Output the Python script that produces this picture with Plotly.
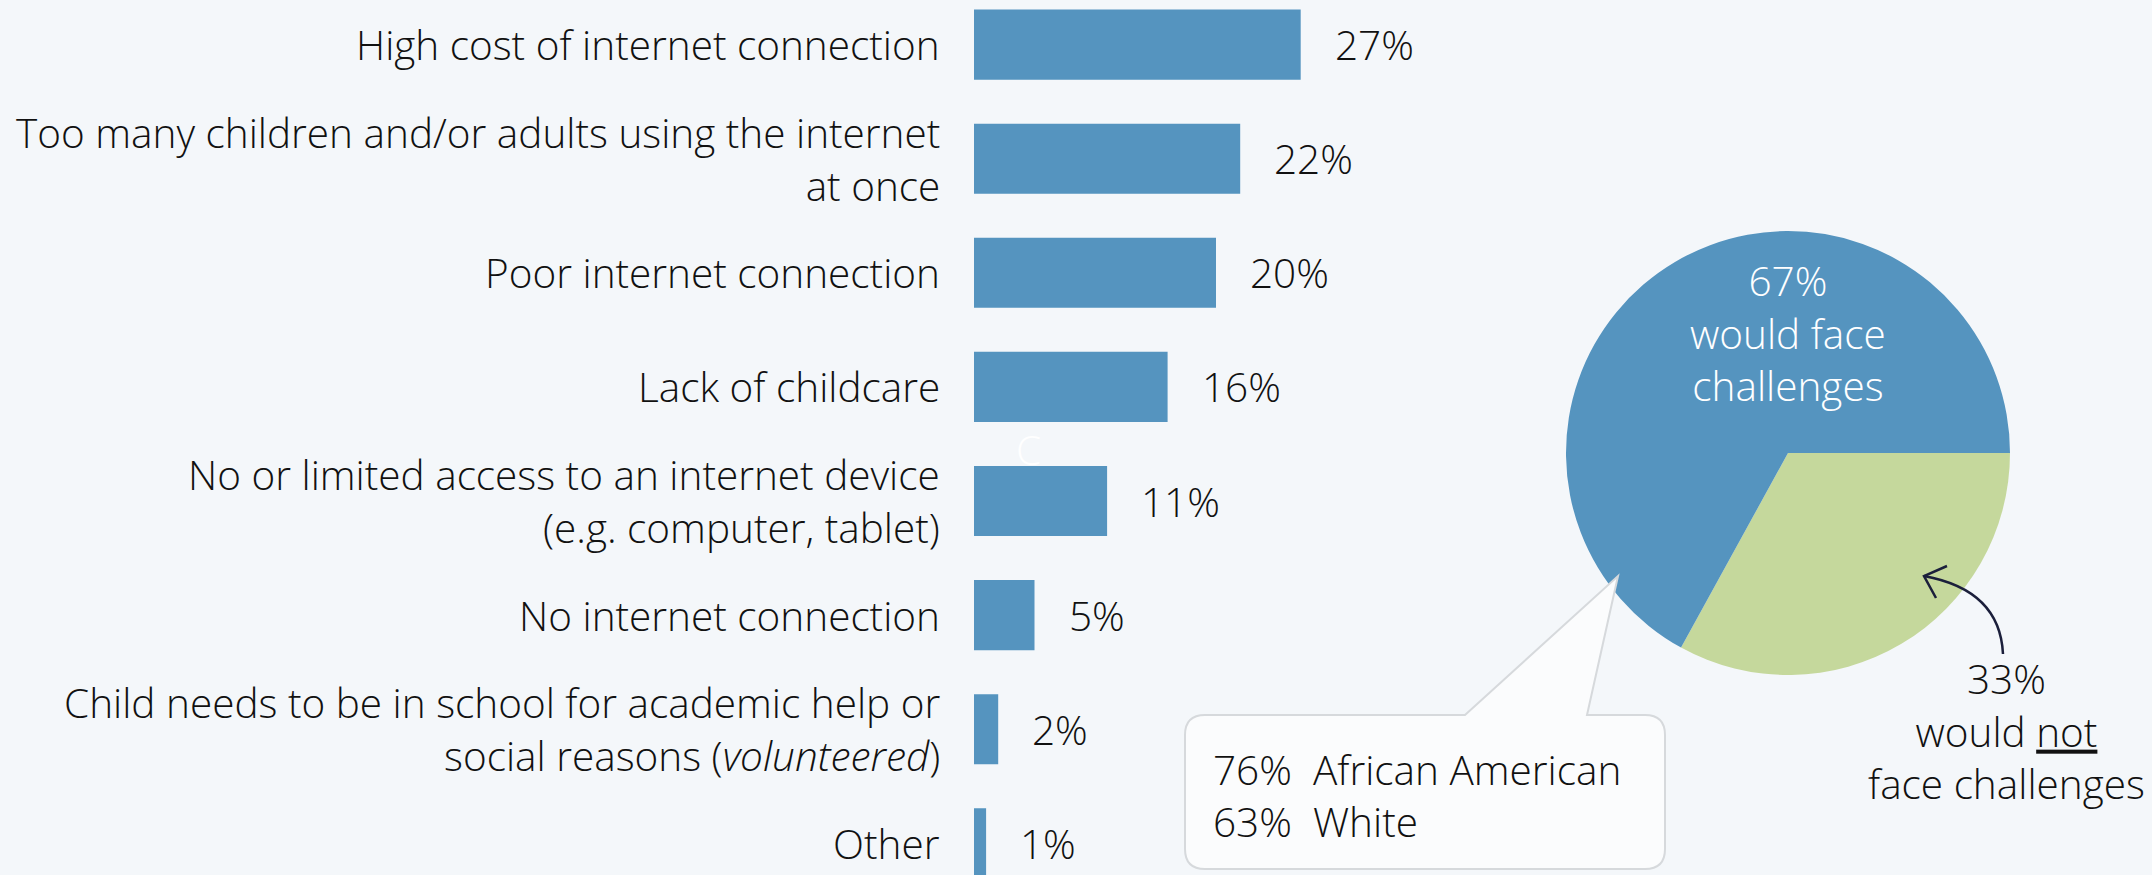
import plotly.graph_objects as go

# Reasons parents gave for facing challenges with remote learning
reasons = [
    "High cost of internet connection",
    "Too many children and/or adults using the internet<br>at once",
    "Poor internet connection",
    "Lack of childcare",
    "No or limited access to an internet device<br>(e.g. computer, tablet)",
    "No internet connection",
    "Child needs to be in school for academic help or<br>social reasons (<i>volunteered</i>)",
    "Other",
]
reason_pct = [27, 22, 20, 16, 11, 5, 2, 1]

# Share who would face challenges overall
pie_labels = ["would not face challenges", "would face challenges"]
pie_values = [33, 67]

# Breakdown by race
race_groups = ["African American", "White"]
race_pct = [76, 63]

W, H = 2152, 875
BG = "#f4f7fa"
BLUE = "#5594bf"
GREEN = "#c5d89c"
INK = "#111111"
FONT = "Open Sans"
FS = 40.5

positions = list(range(len(reasons)))

fig = go.Figure()

fig.add_trace(go.Bar(
    x=reason_pct, y=positions, orientation="h",
    marker=dict(color=BLUE, line=dict(width=0)),
    width=0.614, xaxis="x", yaxis="y",
    hoverinfo="skip", showlegend=False,
))

cx, cy, r = 1788, 453, 222
fig.add_trace(go.Pie(
    labels=pie_labels, values=pie_values,
    marker=dict(colors=[GREEN, BLUE], line=dict(width=0)),
    sort=False, direction="clockwise", rotation=90,
    textinfo="none", hoverinfo="skip", showlegend=False,
    domain=dict(x=[(cx - r) / W, (cx + r) / W], y=[(H - cy - r) / H, (H - cy + r) / H]),
))

font = dict(size=FS, color=INK, family=FONT, weight=300)
ann = []
label_x = 941.5 / W
for pos, txt, v in zip(positions, reasons, reason_pct):
    ann.append(dict(x=label_x, xref="paper", y=pos, yref="y", text=txt,
                    xanchor="right", yanchor="middle", align="right",
                    showarrow=False, font=font))
    ann.append(dict(x=v, xref="x", y=pos, yref="y", text=f"{v}%",
                    xanchor="left", yanchor="middle", xshift=32,
                    showarrow=False, font=font))

def ptext(x, y, text, color=INK, anchor="center", align="center"):
    ann.append(dict(x=x / W, y=1 - y / H, xref="paper", yref="paper", text=text,
                    xanchor=anchor, yanchor="middle", align=align, showarrow=False,
                    font=dict(font, color=color)))

# Pie labels
ptext(1788, 333, f"{pie_values[1]}%<br>would face<br>challenges", "white")
ptext(2006, 731, f"{pie_values[0]}%<br>would <span style='text-decoration:underline'>not</span>"
                 "<br>face challenges")

# Callout text
for (g, p), yy in zip(zip(race_groups, race_pct), [769, 821]):
    ptext(1211, yy, f"{p}%&nbsp;&nbsp;{g}", anchor="left", align="left")

# Faint stray glyph between bars
ptext(1028, 449, "C", "white")

shapes = [
    # Callout bubble with pointer toward the blue slice
    dict(type="path", xref="paper", yref="paper",
         path=" ".join([
             f"M {1205/W},{1-715/H}",
             f"L {1465/W},{1-715/H}",
             f"L {1618/W},{1-576/H}",
             f"L {1587/W},{1-715/H}",
             f"L {1645/W},{1-715/H}",
             f"Q {1665/W},{1-715/H} {1665/W},{1-735/H}",
             f"L {1665/W},{1-849/H}",
             f"Q {1665/W},{1-869/H} {1645/W},{1-869/H}",
             f"L {1205/W},{1-869/H}",
             f"Q {1185/W},{1-869/H} {1185/W},{1-849/H}",
             f"L {1185/W},{1-735/H}",
             f"Q {1185/W},{1-715/H} {1205/W},{1-715/H} Z",
         ]),
         fillcolor="#fbfcfd", line=dict(color="#d6d9dc", width=2), layer="above"),
    # Curved arrow to the green slice
    dict(type="path", xref="paper", yref="paper",
         path=f"M {2003/W},{1-654/H} Q {2000/W},{1-590/H} {1924/W},{1-576/H}",
         line=dict(color="#1b1f3b", width=2.5), layer="above"),
    dict(type="path", xref="paper", yref="paper",
         path=f"M {1947/W},{1-566/H} L {1924/W},{1-576/H} L {1936/W},{1-598/H}",
         line=dict(color="#1b1f3b", width=2.5), layer="above"),
]

px_per_pct = 12.1
x0, x1 = 974 / W, 0.75
y_top, pitch = 44.6, 114.1

fig.update_layout(
    width=W, height=H,
    margin=dict(l=0, r=0, t=0, b=0),
    paper_bgcolor=BG, plot_bgcolor=BG,
    xaxis=dict(domain=[x0, x1], range=[0, (x1 - x0) * W / px_per_pct],
               visible=False, fixedrange=True),
    yaxis=dict(domain=[0, 1], range=[(H - y_top) / pitch, -y_top / pitch],
               visible=False, fixedrange=True),
    annotations=ann, shapes=shapes,
    font=dict(family=FONT, color=INK),
)

fig.write_html("out.html")
